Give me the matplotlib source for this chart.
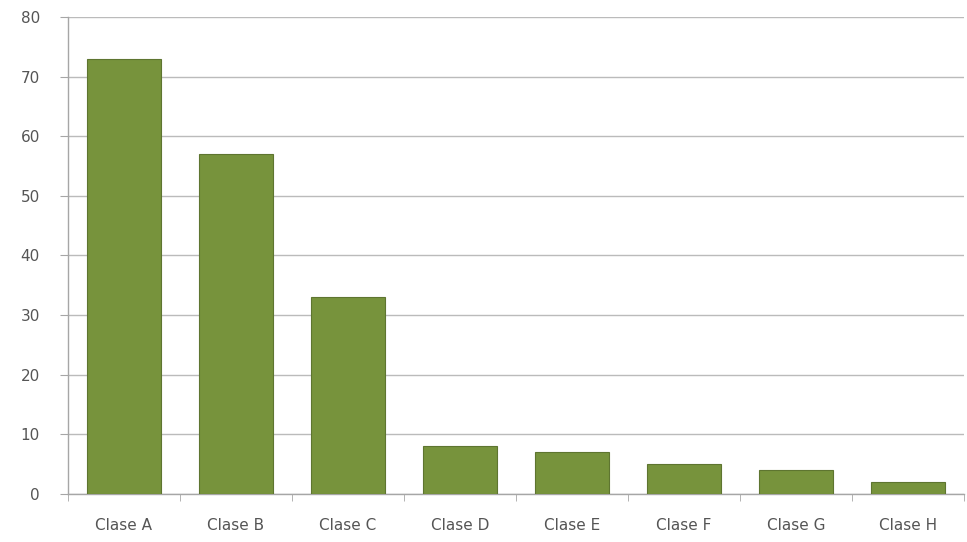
import numpy as np
from matplotlib import pyplot as plt

categories = ["Clase A", "Clase B", "Clase C", "Clase D", "Clase E", "Clase F", "Clase G", "Clase H"]
values = [73, 57, 33, 8, 7, 5, 4, 2]
yticks = [0, 10, 20, 30, 40, 50, 60, 70, 80]

fig = plt.figure(figsize=(9.67, 5.42), dpi=100)
ax = fig.add_axes([0.070, 0.0886, 0.927, 0.88])

x = np.arange(len(categories))
ax.bar(x, values, width=0.66, color="#77933C", edgecolor="#5E7530", linewidth=0.8, zorder=3)

ax.set_xlim(-0.5, len(categories) - 0.5)
ax.set_ylim(0, 80)
ax.set_yticks(yticks)
ax.set_xticks(x)
ax.set_xticklabels(categories)
ax.set_xticks(np.arange(-0.5, len(categories) + 0.5, 1), minor=True)

ax.grid(axis="y", color="#BBBBBB", linewidth=1.0, zorder=0)
for s in ["top", "right"]:
    ax.spines[s].set_visible(False)
for s in ["left", "bottom"]:
    ax.spines[s].set_color("#A6A6A6")
    ax.spines[s].set_linewidth(1.0)

ax.tick_params(axis="x", which="major", length=0, pad=17, labelsize=11, labelcolor="#555555")
ax.tick_params(axis="x", which="minor", length=5, color="#A6A6A6", direction="out")
ax.tick_params(axis="y", length=6, color="#A6A6A6", pad=14, labelsize=11, labelcolor="#555555")

fig.savefig("out.png", dpi=100)
